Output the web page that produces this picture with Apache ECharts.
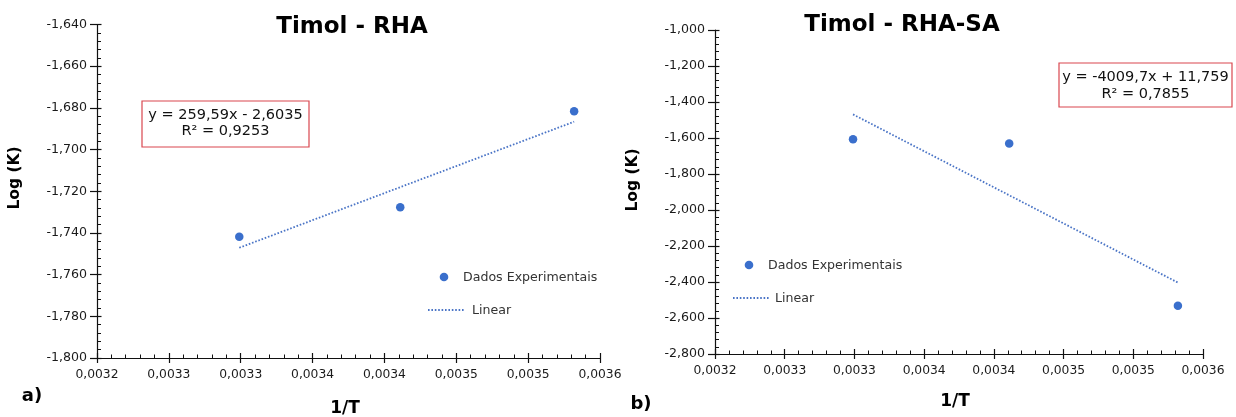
<!DOCTYPE html>
<html>
<head>
<meta charset="utf-8">
<title>Timol - RHA / RHA-SA</title>
<script src="https://cdn.jsdelivr.net/npm/echarts@6/dist/echarts.min.js"></script>
<style>
  html, body { margin: 0; padding: 0; background: #fff; }
  #chart { width: 1236px; height: 417px; }
</style>
</head>
<body>
<div id="chart"></div>
<script>
// 1/T values (K^-1) shared by both panels
const invT = [0.003299, 0.003411, 0.003532];
// Log(K) measured for each adsorbent
const logK_RHA = [-1.7418, -1.7277, -1.6816];
const logK_RHASA = [-1.607, -1.631, -2.532];
// Linear fits: [slope, intercept]
const fitRHA = [259.59, -2.6035];
const fitRHASA = [-4009.7, 11.759];
// Axis ranges: [min, max, interval]
const xRange = [0.0032, 0.00355, 0.00005];
const yRangeRHA = [-1.8, -1.64, 0.02];
const yRangeRHASA = [-2.8, -1.0, 0.2];
// Text shown in the panels
const titles = ['Timol - RHA', 'Timol - RHA-SA'];
const equations = [['y = 259,59x - 2,6035', 'R\u00b2 = 0,9253'], ['y = -4009,7x + 11,759', 'R\u00b2 = 0,7855']];
const panelTags = ['a)', 'b)'];
const legendNames = ['Dados Experimentais', 'Linear'];

const BLUE = '#3a6fcc';
const LINE_BLUE = '#4a74c6';
const LINE_DASH = [1.6, 1.8];
const FONT = 'DejaVu Sans';
const TICK_COLOR = '#111';

const fmtX = v => (Math.round(v * 1e4 + 1e-7) / 1e4).toFixed(4).replace('.', ',');
const fmtY = v => v.toFixed(3).replace('.', ',');

const pts = ys => invT.map((x, i) => [x, ys[i]]);
const fitLine = f => {
  const x0 = invT[0], x1 = invT[invT.length - 1];
  return [[x0, f[0] * x0 + f[1]], [x1, f[0] * x1 + f[1]]];
};

const grids = [
  { left: 97, top: 24.5, width: 503, height: 333.5 },
  { left: 715, top: 30, width: 488, height: 324 }
];

function xAxesFor(g) {
  return [
    {
      type: 'value', gridIndex: g, position: 'bottom',
      min: xRange[0], max: xRange[1], interval: xRange[2],
      axisLine: { show: true, onZero: false, lineStyle: { color: TICK_COLOR, width: 1.2 } },
      axisTick: { show: true, inside: true, length: 5, lineStyle: { color: TICK_COLOR, width: 1.2 } },
      minorTick: { show: true, splitNumber: 5, length: 3.5, lineStyle: { color: TICK_COLOR, width: 1 } },
      axisLabel: { formatter: fmtX, color: '#1a1a1a', fontFamily: FONT, fontSize: 12.3, margin: 11 },
      splitLine: { show: false }
    },
    {
      type: 'value', gridIndex: g, position: 'bottom', silent: true,
      min: xRange[0], max: xRange[1], interval: xRange[2],
      axisLine: { show: false, onZero: false },
      axisTick: { show: true, inside: false, length: 5, lineStyle: { color: TICK_COLOR, width: 1.2 } },
      axisLabel: { show: false },
      splitLine: { show: false }
    }
  ];
}

function yAxesFor(g, r) {
  return [
    {
      type: 'value', gridIndex: g, position: 'left',
      min: r[0], max: r[1], interval: r[2],
      axisLine: { show: true, onZero: false, lineStyle: { color: TICK_COLOR, width: 1.2 } },
      axisTick: { show: true, inside: true, length: 4.5, lineStyle: { color: TICK_COLOR, width: 1.2 } },
      minorTick: { show: true, splitNumber: 5, length: 4, lineStyle: { color: TICK_COLOR, width: 1 } },
      axisLabel: { formatter: fmtY, color: '#1a1a1a', fontFamily: FONT, fontSize: 12.6, margin: 10 },
      splitLine: { show: false }
    },
    {
      type: 'value', gridIndex: g, position: 'left', silent: true,
      min: r[0], max: r[1], interval: r[2],
      axisLine: { show: false, onZero: false },
      axisTick: { show: true, inside: false, length: 7, lineStyle: { color: TICK_COLOR, width: 1.2 } },
      axisLabel: { show: false },
      splitLine: { show: false }
    }
  ];
}

function scatterSeries(idx, ys) {
  return {
    name: legendNames[0], type: 'scatter',
    xAxisIndex: idx * 2, yAxisIndex: idx * 2,
    data: pts(ys), symbol: 'circle', symbolSize: 8.5,
    itemStyle: { color: BLUE, opacity: 1 }, z: 3
  };
}
function fitSeries(idx, f) {
  return {
    name: legendNames[1], type: 'line',
    xAxisIndex: idx * 2, yAxisIndex: idx * 2,
    data: fitLine(f), symbol: 'none', silent: true,
    lineStyle: { color: LINE_BLUE, width: 1.8, type: LINE_DASH }, z: 2
  };
}

// Key for one panel: dot + name, dotted line + name
function legendBlock(dotX, dotY, dotTextX, lineX0, lineX1, lineY, lineTextX) {
  const txt = (t, x, y) => ({
    type: 'text', x: x, y: y,
    style: { text: t, fontFamily: FONT, fontSize: 12.6, fill: '#333', align: 'left', verticalAlign: 'middle' }
  });
  return {
    type: 'group',
    children: [
      { type: 'circle', shape: { cx: dotX, cy: dotY, r: 4.3 }, style: { fill: BLUE } },
      txt(legendNames[0], dotTextX, dotY + 0.5),
      { type: 'line', shape: { x1: lineX0, y1: lineY, x2: lineX1, y2: lineY },
        style: { stroke: LINE_BLUE, lineWidth: 1.8, lineDash: LINE_DASH } },
      txt(legendNames[1], lineTextX, lineY + 1)
    ]
  };
}

function eqBox(x, y, w, h, lines, cy1, cy2) {
  return {
    type: 'group',
    children: [
      { type: 'rect', shape: { x: x, y: y, width: w, height: h },
        style: { fill: '#fff', stroke: '#d9474f', lineWidth: 1.2 } },
      { type: 'text', x: x + w / 2, y: cy1,
        style: { text: lines[0], fontFamily: FONT, fontSize: 14.5, fill: '#111', align: 'center', verticalAlign: 'middle' } },
      { type: 'text', x: x + w / 2, y: cy2,
        style: { text: lines[1], fontFamily: FONT, fontSize: 14.5, fill: '#111', align: 'center', verticalAlign: 'middle' } }
    ]
  };
}

function label(text, x, y, size, rot) {
  return {
    type: 'text', x: x, y: y, rotation: rot || 0,
    style: { text: text, fontFamily: FONT, fontWeight: 'bold', fontSize: size, fill: '#000', align: 'center', verticalAlign: 'middle' }
  };
}

const chart = echarts.init(document.getElementById('chart'), null, { renderer: 'canvas' });

chart.setOption({
  animation: false,
  backgroundColor: '#fff',
  grid: grids,
  xAxis: [].concat(xAxesFor(0), xAxesFor(1)),
  yAxis: [].concat(yAxesFor(0, yRangeRHA), yAxesFor(1, yRangeRHASA)),
  series: [
    fitSeries(0, fitRHA), scatterSeries(0, logK_RHA),
    fitSeries(1, fitRHASA), scatterSeries(1, logK_RHASA)
  ],
  graphic: [
    label(titles[0], 352, 27, 23),
    label(titles[1], 902, 25, 23),
    label('Log (K)', 15, 178, 15.5, Math.PI / 2),
    label('Log (K)', 633, 180, 15.5, Math.PI / 2),
    label('1/T', 345, 409, 17),
    label('1/T', 955, 402, 17),
    label(panelTags[0], 32, 396, 18),
    label(panelTags[1], 641, 404, 18),
    legendBlock(444, 277, 463, 428, 465, 310, 472),
    legendBlock(749, 265, 768, 733, 770, 298, 775),
    eqBox(142, 101, 167, 46, equations[0], 115.5, 131.5),
    eqBox(1059, 63, 173, 44, equations[1], 77.5, 94)
  ]
});
</script>
</body>
</html>
